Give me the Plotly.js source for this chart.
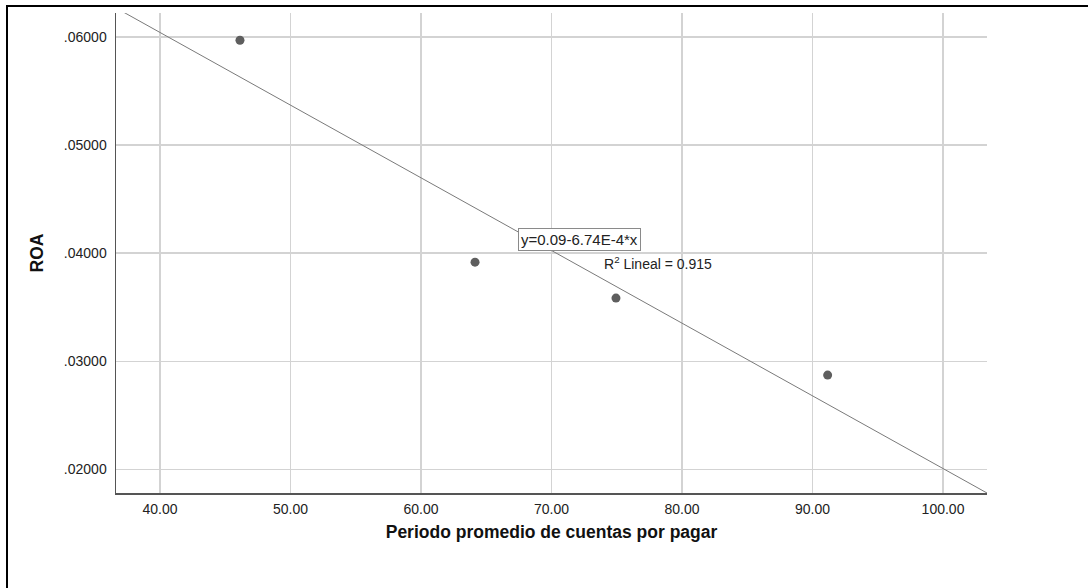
<!DOCTYPE html>
<html>
<head>
<meta charset="utf-8">
<script src="https://cdn.plot.ly/plotly-3.0.1.min.js"></script>
<style>
  html, body { margin: 0; padding: 0; background: #fff; }
  #wrap { position: relative; width: 1088px; height: 588px; overflow: hidden; }
  #chart { position: absolute; left: 0; top: 0; width: 1088px; height: 588px; }
  #frame { position: absolute; left: 6px; top: 5px; width: 1200px; height: 700px;
           border-top: 2px solid #000; border-left: 2px solid #000; pointer-events: none; }
</style>
</head>
<body>
<div id="wrap">
  <div id="chart"></div>
  <div id="frame"></div>
</div>
<script>
// Data
const periodo = [46.13, 64.14, 74.94, 91.16];
const roa = [0.0597, 0.03917, 0.03584, 0.02872];

const xTickVals = [40, 50, 60, 70, 80, 90, 100];
const yTickVals = [0.02, 0.03, 0.04, 0.05, 0.06];
const yTickText = [".02000", ".03000", ".04000", ".05000", ".06000"];

const xRange = [36.63, 103.37];
const yRange = [0.01781, 0.06222];

const eqText = "y=0.09-6.74E-4*x";
const r2Text = "R<sup>2</sup> Lineal = 0.915";
const xTitle = "Periodo promedio de cuentas por pagar";
const yTitle = "ROA";

// least-squares fit line from the data
const n = periodo.length;
const mx = periodo.reduce((a, b) => a + b, 0) / n;
const my = roa.reduce((a, b) => a + b, 0) / n;
let sxy = 0, sxx = 0;
for (let i = 0; i < n; i++) { sxy += (periodo[i] - mx) * (roa[i] - my); sxx += (periodo[i] - mx) ** 2; }
const slope = sxy / sxx;
const intercept = my - slope * mx;
const fitX = [xRange[0] - 5, xRange[1]];
const fitY = fitX.map(x => intercept + slope * x);

const font = "Liberation Sans, Arial, sans-serif";

const traces = [
  {
    x: fitX, y: fitY, type: "scatter", mode: "lines",
    line: { color: "#7a7a7a", width: 1 },
    hoverinfo: "skip", showlegend: false, cliponaxis: true
  },
  {
    x: periodo, y: roa, type: "scatter", mode: "markers",
    marker: { color: "#5e5e5e", size: 9 },
    showlegend: false
  }
];

const layout = {
  width: 1088, height: 588,
  margin: { l: 116, r: 101, t: 13, b: 95 },
  paper_bgcolor: "rgba(0,0,0,0)",
  plot_bgcolor: "#fff",
  font: { family: font, size: 14, color: "#222" },
  showlegend: false,
  xaxis: {
    range: xRange, tickvals: xTickVals, tickformat: ".2f",
    showgrid: true, gridcolor: "#d3d3d3", gridwidth: 1.5,
    zeroline: false, showline: true, linecolor: "#555", linewidth: 1.5,
    ticks: "", ticklabelstandoff: 3,
    tickfont: { family: font, size: 14, color: "#222" },
    title: { text: "<b>" + xTitle + "</b>", font: { family: font, size: 17.5, color: "#111" }, standoff: 9 }
  },
  yaxis: {
    range: yRange, tickvals: yTickVals, ticktext: yTickText,
    showgrid: true, gridcolor: "#d3d3d3", gridwidth: 1.5,
    zeroline: false, showline: true, linecolor: "#555", linewidth: 1.5,
    ticks: "", ticklabelstandoff: 5,
    tickfont: { family: font, size: 14, color: "#222" },
    title: { text: "<b>" + yTitle + "</b>", font: { family: font, size: 17.5, color: "#111" }, standoff: 15 }
  },
  annotations: [
    {
      x: 72.18, y: 0.04129, xref: "x", yref: "y",
      text: eqText, showarrow: false,
      font: { family: font, size: 15, color: "#222" },
      bgcolor: "#fff", bordercolor: "#8a8a8a", borderwidth: 1, borderpad: 2,
      xanchor: "center", yanchor: "middle"
    },
    {
      x: 73.87, y: 0.03908, xref: "x", yref: "y",
      text: r2Text, showarrow: false,
      font: { family: font, size: 14, color: "#222" },
      xanchor: "left", yanchor: "middle"
    }
  ]
};

Plotly.newPlot("chart", traces, layout, { displayModeBar: false, staticPlot: true });
</script>
</body>
</html>
